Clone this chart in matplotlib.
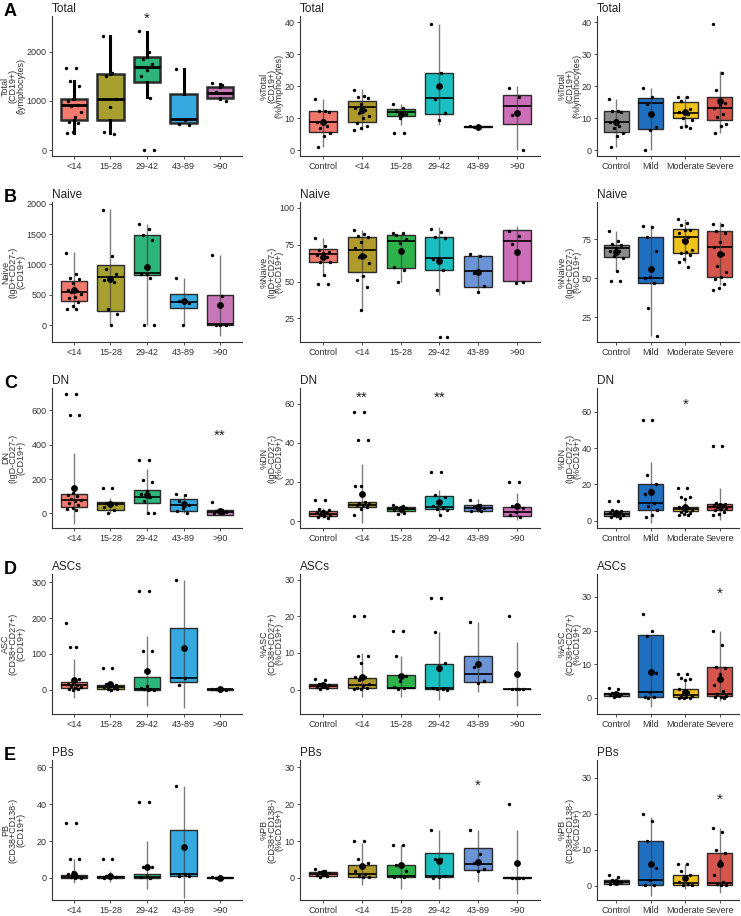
import numpy as np
import matplotlib.pyplot as plt

plt.rcParams['font.family'] = ['Liberation Sans', 'DejaVu Sans']

ages = ['<14', '15-28', '29-42', '43-89', '>90']
ages_ctrl = ['Control'] + ages
severity = ['Control', 'Mild', 'Moderate', 'Severe']

age_colors = ['#F27A6E', '#A7A02F', '#2DB67B', '#36A9E1', '#C776B7']
ctrl_age_colors = ['#F0776C', '#B09A2A', '#2DB34A', '#1BBFC1', '#6B93D6', '#CC6FB8']
sev_colors = ['#8A8A8A', '#1F6FC1', '#F1C21B', '#D5544C']

# stats rows: q1, median, q3, line low, line high, mean
# ---- Total
total_abs_pts = [[1680, 1680, 1400, 1310, 1040, 1000, 920, 900, 780, 670, 580, 550, 370, 340],
                 [2313, 1570, 1510, 1040, 870, 370, 320],
                 [2420, 2000, 1850, 1750, 1640, 1500, 1070, 0, 0],
                 [1650, 620, 540, 510],
                 [1360, 1320, 1180, 1000]]
total_abs_stats = [(613, 913, 1047, 347, 1400, np.nan),
                   (613, 1047, 1547, 347, 2313, np.nan),
                   (1380, 1693, 1893, 1080, 2413, np.nan),
                   (560, 633, 1147, 560, 1647, np.nan),
                   (1067, 1167, 1280, 1047, 1347, np.nan)]

total_pct_age_pts = [[15.9, 12.3, 12.3, 11.8, 9.5, 8.8, 7.6, 6.8, 5.5, 4.4, 1.1],
                     [18.8, 17.0, 16.5, 16.4, 14.4, 13.2, 12.6, 11.6, 10.7, 10.2, 8.5, 7.6, 6.9, 6.4],
                     [14.5, 13.1, 12.3, 11.2, 10.0, 5.5, 5.5],
                     [39.5, 24.0, 16.0, 11.5, 9.3],
                     [7.6, 7.4, 7.3],
                     [19.3, 16.5, 10.9, 0.1]]
total_pct_age_stats = [(5.8, 8.7, 12.2, 1.0, 15.9, 8.9),
                       (8.9, 13.5, 15.3, 6.4, 19.0, 12.5),
                       (10.8, 12.0, 12.9, 7.9, 14.3, 11.3),
                       (11.3, 16.2, 24.0, 7.9, 39.5, 20.1),
                       (7.2, 7.4, 7.5, 7.2, 7.6, 7.3),
                       (8.2, 13.7, 17.1, 0.0, 20.0, 11.7)]

total_pct_sev_pts = [[15.9, 12.3, 12.3, 11.8, 9.5, 8.8, 7.6, 6.8, 5.5, 4.4, 1.1],
                     [19.3, 16.5, 14.5, 7.1, 6.3, 0.1],
                     [16.7, 16.5, 15.4, 13.0, 12.4, 12.0, 11.2, 10.0, 9.3, 7.7, 7.4, 6.8],
                     [39.4, 24.0, 18.8, 14.6, 14.0, 13.3, 11.3, 10.5, 8.3, 7.6, 5.4]]
total_pct_sev_stats = [(5.8, 8.7, 12.2, 1.1, 15.9, 8.7),
                       (6.7, 14.6, 16.3, 0.0, 19.3, 11.4),
                       (10.2, 11.7, 15.1, 6.9, 16.9, 12.0),
                       (9.4, 13.2, 16.6, 5.3, 24.8, 15.3)]

# ---- Naive
naive_abs_pts = [[1190, 850, 780, 760, 700, 580, 560, 540, 520, 470, 440, 380, 320, 270, 270],
                 [1900, 1140, 930, 850, 770, 740, 710, 260, 190, 0],
                 [1660, 1580, 1480, 1400, 850, 840, 770, 0, 0],
                 [780, 410, 400, 360, 0],
                 [1150, 480, 0, 0, 0]]
naive_abs_stats = [(402, 547, 734, 279, 1206, 584),
                   (236, 788, 992, 0, 1914, 761),
                   (825, 863, 1485, 0, 1672, 960),
                   (279, 386, 504, 0, 783, 397),
                   (0, 10, 493, -177, 1163, 332)]

naive_pct_age_pts = [[79.8, 74.0, 71.7, 70.3, 69.4, 67.8, 66.5, 63.4, 63.1, 54.4, 48.2, 48.2],
                     [85.3, 82.5, 81.1, 80.4, 76.6, 72.8, 67.4, 66.9, 62.8, 54.0, 51.0, 46.4, 30.9],
                     [82.9, 82.7, 81.6, 79.2, 76.0, 60.1, 57.9, 49.8],
                     [86.0, 83.8, 80.4, 79.3, 66.0, 65.0, 57.6, 44.1, 12.5, 12.5],
                     [68.6, 67.2, 56.0, 47.0, 42.6],
                     [84.5, 81.0, 75.6, 50.0, 48.9]]
naive_pct_age_stats = [(63.4, 69.0, 72.2, 54.2, 79.6, 66.5),
                       (56.4, 71.7, 80.5, 31.7, 84.7, 67.2),
                       (59.3, 77.3, 81.6, 49.7, 82.2, 71.0),
                       (57.6, 66.1, 80.0, 40.7, 87.2, 63.8),
                       (46.3, 57.1, 67.2, 43.0, 68.8, 56.2),
                       (50.2, 77.3, 85.0, 49.7, 87.9, 69.9)]

naive_pct_sev_pts = [[80.1, 74.2, 72.1, 71.2, 69.3, 67.8, 67.2, 64.0, 63.1, 54.7, 48.5, 48.5],
                     [83.3, 82.8, 76.6, 67.2, 50.6, 49.9, 47.1, 30.9, 12.7],
                     [87.8, 85.6, 84.5, 81.0, 80.8, 79.2, 76.6, 74.3, 68.4, 67.0, 66.0, 64.8, 62.5, 60.2, 57.3],
                     [85.0, 84.2, 80.2, 78.8, 73.1, 69.9, 65.6, 58.0, 54.0, 51.0, 49.7, 46.0, 44.0, 42.5]]
naive_pct_sev_stats = [(63.6, 69.3, 71.6, 54.7, 80.5, 66.7),
                       (47.0, 50.4, 76.7, 12.7, 84.1, 55.7),
                       (66.1, 76.7, 81.6, 60.0, 87.9, 74.2),
                       (50.8, 70.3, 80.1, 45.6, 86.2, 65.5)]

# ---- DN
dn_abs_pts = [[695, 695, 570, 570, 120, 105, 100, 85, 80, 70, 60, 50, 30, 25, 20],
              [145, 145, 60, 55, 50, 40, 20, 5],
              [310, 310, 195, 180, 130, 115, 95, 70, 5, 0],
              [115, 110, 70, 50, 30, 15, 5],
              [65, 20, 15, 10, 5, 0, 0]]
dn_abs_stats = [(39, 76, 111, -60, 353, 150),
                (19, 52, 66, 4, 89, 56),
                (58, 95, 134, 4, 256, 107),
                (16, 49, 82, 4, 109, 52),
                (-8, 8, 17, -8, 33, 14)]

dn_pct_age_pts = [[11, 11, 6, 5.5, 5, 4.5, 4, 3.5, 3, 2.5, 2, 1.5],
                  [55.6, 55.6, 41.2, 41.2, 18, 18, 10, 9.5, 9, 8.5, 8, 7, 6, 3],
                  [8.5, 7.5, 7, 6.5, 6, 5.5, 4, 3.4],
                  [25, 25, 13.2, 12.5, 10, 7.5, 6.5, 6, 5.5, 3.3],
                  [11, 8.5, 7, 6.5, 6, 5, 5],
                  [20.1, 20.1, 7.7, 6.8, 4.8, 3.1, 2.2]]
dn_pct_age_stats = [(2.6, 3.7, 5.3, 1.7, 6.5, 4.4),
                    (7.0, 8.2, 9.9, -0.9, 29.4, 14.1),
                    (5.1, 6.1, 7.1, 3.4, 8.2, 6.1),
                    (6.0, 7.1, 12.9, 3.6, 16.0, 9.9),
                    (5.4, 6.5, 8.2, 4.8, 11.2, 7.0),
                    (2.7, 4.6, 7.1, 0.5, 14.6, 7.8)]

dn_pct_sev_pts = [[11, 11, 6, 5.5, 5, 4.5, 4, 3.5, 3, 2.5, 2, 1.5],
                  [55.6, 55.6, 25, 20, 17, 15, 10, 8, 6, 3.5, 2],
                  [18, 18, 13, 13, 12, 7.5, 7, 6.5, 6, 5.5, 5, 4.5, 4, 3.5, 3],
                  [41.2, 41.2, 10, 9.5, 9, 8.5, 8, 7.5, 7, 6.5, 6, 5, 4, 3]]
dn_pct_sev_stats = [(2.8, 4.0, 5.5, 1.8, 6.8, 4.6),
                    (6.2, 10.1, 20.2, -1.1, 32.5, 16.0),
                    (5.3, 6.8, 7.5, 3.1, 12.8, 7.7),
                    (6.2, 7.7, 9.2, 0.4, 18.3, 8.3)]

# ---- ASCs
asc_abs_pts = [[185, 120, 120, 30, 20, 15, 12, 10, 8, 5, 3, 2, 0],
               [60, 60, 15, 12, 10, 8, 5, 3, 2, 0],
               [275, 275, 108, 108, 10, 5, 3, 2, 0, 0],
               [307, 32, 12],
               [3, 2, 1, 0, 0]]
asc_abs_stats = [(6, 12, 21, -23, 85, 27),
                 (2, 7, 13, -6, 20, 15),
                 (0, 3, 35, -45, 150, 52),
                 (20, 32, 173, -50, 305, 116),
                 (0, 1, 3, -1, 3, 1.5)]

asc_pct_age_pts = [[2.8, 2.5, 1.5, 1.3, 1.0, 0.8, 0.5, 0.2],
                   [20, 20, 9.2, 9.2, 7.3, 3.4, 3.4, 2.7, 1.5, 1.0, 0.5, 0.3, 0.2, 0.1],
                   [16, 16, 9.2, 3.6, 2.2, 0.6, 0.3, 0.2],
                   [25, 25, 15.6, 7.2, 5.3, 0.5, 0.2, 0.1, 0.0],
                   [18.5, 7.0, 6.2, 2.2, 1.7],
                   [20, 0.2, 0.2, 0.2, 0.2]]
asc_pct_age_stats = [(0.45, 1.07, 1.6, 0.4, 2.0, 1.15),
                     (0.35, 1.1, 3.1, -2.0, 10.0, 3.4),
                     (0.45, 0.5, 4.0, -2.0, 9.3, 3.6),
                     (0.2, 0.3, 7.1, -2.8, 15.6, 6.0),
                     (2.0, 4.2, 9.2, -0.6, 18.4, 7.1),
                     (0.15, 0.2, 0.25, -4.5, 12.9, 4.3)]

asc_pct_sev_pts = [[2.9, 2.5, 1.5, 1.2, 1.0, 0.8, 0.5, 0.2],
                   [25, 20, 18.5, 7.5, 1.7, 0.3, 0.2, 0.1],
                   [7.2, 7.2, 5.8, 5.5, 5.3, 2.5, 1.7, 1.0, 0.5, 0.3, 0.2, 0.1, 0.1, 0.0],
                   [20, 15.8, 9.2, 9.0, 7.2, 3.8, 2.0, 1.0, 0.5, 0.3, 0.2, 0.1]]
asc_pct_sev_stats = [(0.6, 1.0, 1.5, 0.5, 1.7, 1.1),
                     (0.3, 1.7, 18.7, -2.7, 18.1, 7.7),
                     (0.3, 0.7, 2.5, 0.3, 5.8, 1.7),
                     (0.5, 1.0, 9.2, -1.0, 20.0, 5.6)]

# ---- PBs
pb_abs_pts = [[30, 30, 10, 10, 3, 2, 1, 0.5, 0, 0],
              [10, 10, 1, 0.5, 0.2, 0],
              [41, 41, 6, 6, 1, 0.5, 0],
              [50, 2, 1, 1],
              [0.3, 0.2, 0]]
pb_abs_stats = [(0, 0.5, 1.5, -3, 10, 2),
                (0, 0.3, 0.8, -2, 4, 1),
                (0, 0.5, 2, -6, 20, 6),
                (1, 2, 26, -11, 50, 17),
                (0, 0.1, 0.3, 0, 0.3, 0.2)]

pb_pct_age_pts = [[2.5, 2, 1.5, 1.2, 1, 0.7, 0.5, 0.3],
                  [10, 10, 5, 4, 3.5, 2, 1, 0.5, 0.3, 0.2],
                  [9, 9, 3.5, 2, 0.5, 0.3, 0.2],
                  [13, 5, 5, 0.5, 0.2, 0.1],
                  [13, 6.5, 4, 2.5, 2],
                  [20, 0.1, 0.1, 0.1, 0.1]]
pb_pct_age_stats = [(0.5, 1.0, 1.5, 0.3, 2.5, 1.2),
                    (0.3, 1.0, 3.5, -2, 9.5, 3.2),
                    (0.2, 0.5, 3.5, -3, 9, 3.5),
                    (0.2, 0.4, 6.8, -3, 13, 4.5),
                    (2.2, 3.8, 8.2, -1, 13, 4.3),
                    (0.05, 0.1, 0.15, -4.5, 13, 4.1)]

pb_pct_sev_pts = [[3, 2.5, 1.5, 1, 0.8, 0.5],
                  [20, 18, 12.5, 5, 1.5, 0.3, 0.1],
                  [6, 6, 4, 3, 2, 1, 0.5, 0.3, 0.1],
                  [16, 15, 10, 9, 7, 3, 1, 0.5, 0.2, 0.1]]
pb_pct_sev_stats = [(0.5, 1.0, 1.6, 0.3, 2, 1.1),
                    (0.3, 1.5, 12.5, -3, 19, 6),
                    (0.3, 0.8, 3, -1, 6, 2),
                    (0.3, 0.8, 9.2, -2, 16, 6)]

# significance marks: (group index, y, text)
stars_total_abs = [(2, 2680, '*')]
stars_dn_abs = [(4, 450, '**')]
stars_dn_pct_age = [(1, 62.9, '**'), (3, 62.9, '**')]
stars_dn_pct_sev = [(2, 63.7, '*')]
stars_asc_pct_sev = [(3, 31, '*')]
stars_pb_pct_age = [(4, 25, '*')]
stars_pb_pct_sev = [(3, 24, '*')]

row_titles = ['Total', 'Naive', 'DN', 'ASCs', 'PBs']
abs_labels = ['Total\n(CD19+)\n(lymphocytes)', 'Naive\n(IgD+CD27-)\n(CD19+)',
              'DN\n(IgD-CD27-)\n(CD19+)', 'ASC\n(CD38+CD27+)\n(CD19+)',
              'PB\n(CD38+CD138-)\n(CD19+)']
pct_labels = ['%Total\n(CD19+)\n(%lymphocytes)', '%Naive\n(IgD+CD27-)\n(%CD19+)',
              '%DN\n(IgD-CD27-)\n(%CD19+)', '%ASC\n(CD38+CD27+)\n(%CD19+)',
              '%PB\n(CD38+CD138-)\n(%CD19+)']

panels = [
    # row, col, pts, stats, ylim, ticks, stars
    (0, 0, total_abs_pts, total_abs_stats, (-120, 2730), [0, 1000, 2000], stars_total_abs),
    (0, 1, total_pct_age_pts, total_pct_age_stats, (-1.8, 41.9), [0, 10, 20, 30, 40], []),
    (0, 2, total_pct_sev_pts, total_pct_sev_stats, (-1.8, 41.9), [0, 10, 20, 30, 40], []),
    (1, 0, naive_abs_pts, naive_abs_stats, (-280, 2030), [0, 500, 1000, 1500, 2000], []),
    (1, 1, naive_pct_age_pts, naive_pct_age_stats, (9, 104), [25, 50, 75, 100], []),
    (1, 2, naive_pct_sev_pts, naive_pct_sev_stats, (9, 99), [25, 50, 75], []),
    (2, 0, dn_abs_pts, dn_abs_stats, (-85, 730), [0, 200, 400, 600], stars_dn_abs),
    (2, 1, dn_pct_age_pts, dn_pct_age_stats, (-3.5, 68), [0, 20, 40, 60], stars_dn_pct_age),
    (2, 2, dn_pct_sev_pts, dn_pct_sev_stats, (-3.9, 73), [0, 20, 40, 60], stars_dn_pct_sev),
    (3, 0, asc_abs_pts, asc_abs_stats, (-68, 323), [0, 100, 200, 300], []),
    (3, 1, asc_pct_age_pts, asc_pct_age_stats, (-6.7, 31.6), [0, 10, 20, 30], []),
    (3, 2, asc_pct_sev_pts, asc_pct_sev_stats, (-4.8, 36.8), [0, 10, 20, 30], stars_asc_pct_sev),
    (4, 0, pb_abs_pts, pb_abs_stats, (-12, 64), [0, 20, 40, 60], []),
    (4, 1, pb_pct_age_pts, pb_pct_age_stats, (-6, 32), [0, 10, 20, 30], stars_pb_pct_age),
    (4, 2, pb_pct_sev_pts, pb_pct_sev_stats, (-4, 35), [0, 10, 20, 30], stars_pb_pct_sev),
]

W, H = 741, 916
cols_px = [(52, 190), (300, 240), (597, 142)]
label_right_px = [25, 284, 582]
row_tops = [16, 202, 388, 574, 760]
ax_h = 140

fig = plt.figure(figsize=(W / 100, H / 100), dpi=100)


def draw_panel(ax, groups, colors, pts, stats, thick=False):
    n = len(groups)
    pos = np.arange(1, n + 1)
    bx = []
    for s in stats:
        q1, med, q3, lo, hi, mean = s
        if thick:
            bx.append(dict(q1=q1, med=med, q3=q3, whislo=lo, whishi=hi, fliers=[]))
        else:
            bx.append(dict(q1=q1, med=med, q3=q3, whislo=q1, whishi=q3, fliers=[]))
    lw = 1.8 if thick else 1.0
    art = ax.bxp(bx, positions=pos, widths=0.72, patch_artist=True, showcaps=False,
                 boxprops=dict(linewidth=lw, edgecolor='#2b2b2b'),
                 medianprops=dict(color='black', linewidth=lw + 0.2),
                 whiskerprops=dict(color='black', linewidth=lw + 0.4))
    for patch, c in zip(art['boxes'], colors):
        patch.set_facecolor(c)
    for i, s in enumerate(stats):
        q1, med, q3, lo, hi, mean = s
        if not thick:
            ax.vlines(pos[i], lo, hi, color='#3a3a3a', alpha=0.65, linewidth=1.0, zorder=4)
        p = pts[i]
        offs = [((k * 0.618) % 1 - 0.5) * 0.42 for k in range(len(p))]
        ax.scatter(pos[i] + np.array(offs), p, s=6, color='black', zorder=5, linewidths=0)
        if not np.isnan(mean):
            ax.scatter(pos[i], mean, s=24, color='black', zorder=6, linewidths=0)
    ax.set_xticks(pos)
    ax.set_xticklabels(groups)
    if n == 4:
        ax.set_xlim(0.45, n + 0.55)
    else:
        ax.set_xlim(0.4, n + 0.6)


for row, col, pts, stats, ylim, ticks, stars in panels:
    l, w = cols_px[col]
    top = row_tops[row]
    ax = fig.add_axes([l / W, 1 - (top + ax_h) / H, w / W, ax_h / H])
    if col == 0:
        groups, colors, ylab = ages, age_colors, abs_labels[row]
    elif col == 1:
        groups, colors, ylab = ages_ctrl, ctrl_age_colors, pct_labels[row]
    else:
        groups, colors, ylab = severity, sev_colors, pct_labels[row]
    draw_panel(ax, groups, colors, pts, stats, thick=(row == 0 and col == 0))
    for gi, y, txt in stars:
        ax.text(gi + 1, y, txt, ha='center', va='center', fontsize=11, color='#222222')
    ax.set_ylim(*ylim)
    ax.set_yticks(ticks)
    ax.set_title(row_titles[row], loc='left', fontsize=8.5, pad=3, color='#222222')
    ax.set_ylabel(ylab, fontsize=6.5, color='#333333', linespacing=0.8)
    ax.yaxis.set_label_coords((label_right_px[col] - l) / w, 0.5)
    for sp in ['top', 'right']:
        ax.spines[sp].set_visible(False)
    for sp in ['left', 'bottom']:
        ax.spines[sp].set_color('#333333')
        ax.spines[sp].set_linewidth(0.8)
    ax.tick_params(labelsize=6.5, length=2, width=0.6, colors='#333333', pad=2)

for row, letter in enumerate('ABCDE'):
    fig.text(4 / W, 1 - (row_tops[row] - 4) / H, letter, fontsize=13, fontweight='bold',
             ha='left', va='center')

fig.savefig('out.png', dpi=100)
